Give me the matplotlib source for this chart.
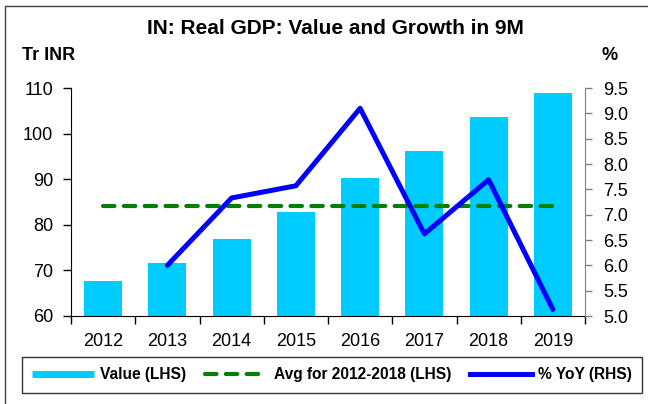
import matplotlib
matplotlib.use('Agg')
import matplotlib.pyplot as plt
from matplotlib.lines import Line2D
from matplotlib.patches import Rectangle
from matplotlib.ticker import FixedLocator, FormatStrFormatter
import numpy as np

plt.rcParams['font.family'] = ['Liberation Sans', 'DejaVu Sans']

years = ['2012', '2013', '2014', '2015', '2016', '2017', '2018', '2019']
value = [67.6, 71.6, 76.9, 82.7, 90.3, 96.2, 103.6, 109.0]
yoy = [np.nan, 6.0, 7.33, 7.57, 9.1, 6.62, 7.69, 5.13]
avg_2012_2018 = 84.1

W, H = 648, 404
fig = plt.figure(figsize=(W / 100, H / 100), dpi=100)
L, R, T, B = 71, 585, 88, 316
ax = fig.add_axes([L / W, 1 - B / H, (R - L) / W, (B - T) / H])
x = np.arange(len(years))

ax.bar(x, value, width=0.59, color='#00CCFF', zorder=2)
ax.plot(x, [avg_2012_2018] * len(x), color='#008000', lw=3.0,
        dashes=(2.75, 2.25), dash_capstyle='round', zorder=3)
ax.set_xlim(-0.5, len(years) - 0.5)
ax.set_ylim(60, 110)
ax.set_yticks(np.arange(60, 111, 10))
ax.tick_params(axis='y', direction='out', length=6, width=1, pad=7, labelsize=13)

ax.xaxis.set_major_locator(FixedLocator(np.arange(-0.5, len(years), 1.0)))
ax.xaxis.set_minor_locator(FixedLocator(x))
ax.set_xticklabels([], minor=False)
ax.set_xticklabels(years, minor=True)
ax.tick_params(axis='x', which='major', direction='out', length=6, width=1)
ax.tick_params(axis='x', which='minor', length=0, pad=12, labelsize=13)
ax.spines['top'].set_visible(False)
ax.spines['right'].set_visible(False)

ax2 = ax.twinx()
ax2.plot(x, yoy, color='#0000FF', lw=3.6, solid_joinstyle='round', solid_capstyle='round', zorder=4)
ax2.set_ylim(5.0, 9.5)
ax2.set_yticks(np.arange(5.0, 9.51, 0.5))
ax2.yaxis.set_major_formatter(FormatStrFormatter('%.1f'))
ax2.tick_params(axis='y', direction='out', length=5, width=1, pad=8, labelsize=13, color='#808080')
ax2.spines['top'].set_visible(False)
ax2.spines['left'].set_visible(False)
ax2.spines['bottom'].set_visible(False)
ax2.spines['right'].set_color('#808080')

fig.text(335 / W, 1 - 29 / H, 'IN: Real GDP: Value and Growth in 9M', ha='center', va='center',
         fontsize=15, fontweight='bold')
fig.text(22 / W, 1 - 56 / H, 'Tr INR', ha='left', va='center', fontsize=13, fontweight='bold')
fig.text(610 / W, 1 - 56 / H, '%', ha='center', va='center', fontsize=13, fontweight='bold')

handles = [
    Line2D([], [], color='#00CCFF', lw=5, solid_capstyle='butt'),
    Line2D([], [], color='#008000', lw=3.0, dashes=(2.75, 2.25), dash_capstyle='round'),
    Line2D([], [], color='#0000FF', lw=3.6),
]
labels = ['Value (LHS)', 'Avg for 2012-2018 (LHS)', '% YoY (RHS)']
leg = fig.legend(handles, labels, loc='center', bbox_to_anchor=(332 / W, 1 - 375 / H),
                 ncol=3, handlelength=4, handletextpad=0.4, columnspacing=1.2,
                 prop={'weight': 'bold', 'size': 11.2}, frameon=True, fancybox=False,
                 borderpad=0.65, borderaxespad=0)
leg.get_frame().set_edgecolor('black')
leg.get_frame().set_linewidth(1)

fig.patches.append(Rectangle((5 / W, -0.5), 2, 0.5 + 1 - 6 / H, transform=fig.transFigure,
                             fill=False, edgecolor='#404040', lw=1))

fig.savefig('out.png', dpi=100)
